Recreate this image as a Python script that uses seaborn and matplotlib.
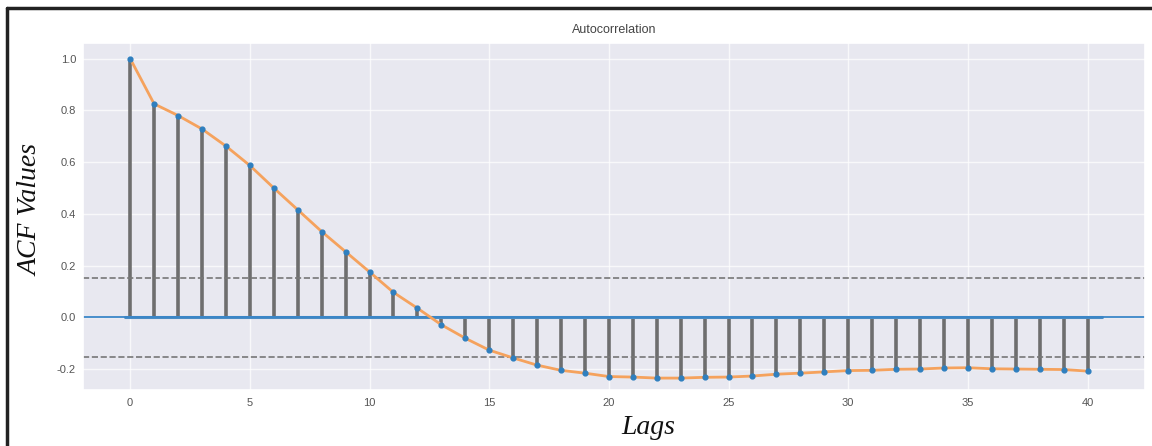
import numpy as np
import pandas as pd
import matplotlib
matplotlib.use("Agg")
import matplotlib.pyplot as plt
import seaborn as sns
from matplotlib.lines import Line2D

# --- data ---
lags = list(range(41))
acf_values = [1.000, 0.825, 0.780, 0.728, 0.662, 0.587, 0.500, 0.416, 0.332, 0.254,
              0.176, 0.097, 0.036, -0.028, -0.080, -0.126, -0.156, -0.184, -0.204, -0.215,
              -0.228, -0.230, -0.234, -0.234, -0.231, -0.230, -0.226, -0.219, -0.215, -0.210,
              -0.205, -0.204, -0.200, -0.199, -0.195, -0.194, -0.198, -0.199, -0.200, -0.201,
              -0.207]
conf_bound = 0.152
x_ticks = [0, 5, 10, 15, 20, 25, 30, 35, 40]
y_ticks = [-0.2, 0.0, 0.2, 0.4, 0.6, 0.8, 1.0]

df = pd.DataFrame({"lag": lags, "acf": acf_values})

sns.set_theme(style="darkgrid")
plt.rcParams["font.family"] = ["Liberation Sans Narrow", "Liberation Sans", "DejaVu Sans"]

fig = plt.figure(figsize=(11.52, 4.46), dpi=100)
ax = fig.add_axes([83 / 1152, 1 - 390 / 446, (1145 - 83) / 1152, (390 - 43) / 446])
ax.set_facecolor("#e8e8f0")
ax.grid(color="white", linewidth=1.0, alpha=0.7)

# stems
ax.vlines(df["lag"], 0, df["acf"], color="#6e6e6e", linewidth=2.6, zorder=2)
ax.plot([-0.2, 40.6], [0, 0], color="#4a8cc4", linewidth=2.2, zorder=2)
ax.axhline(0, color="#3a86c8", linewidth=1.3, zorder=2)

# confidence bounds
ax.axhline(conf_bound, color="#777777", linestyle="--", linewidth=1.2, zorder=2)
ax.axhline(-conf_bound, color="#777777", linestyle="--", linewidth=1.2, zorder=2)

# orange line through the values
sns.lineplot(data=df, x="lag", y="acf", ax=ax, color="#f5a25d", linewidth=2.0, zorder=3)
ax.scatter(df["lag"], df["acf"], s=12, color="#2f7fbf", zorder=4)

ax.set_xlim(-1.97, 42.4)
ax.set_ylim(-0.28, 1.06)
ax.set_xticks(x_ticks)
ax.set_yticks(y_ticks)
ax.set_yticklabels([f"{v:.1f}" for v in y_ticks])
ax.tick_params(axis="y", labelsize=8, colors="#555555", length=0, pad=5)
ax.tick_params(axis="x", labelsize=8, colors="#555555", length=0, pad=6)

ax.set_title("Autocorrelation", fontsize=9, color="#444444", pad=7)
ax.set_xlabel("Lags", fontsize=20, family=["Liberation Serif"], style="italic",
              color="#111111")
ax.set_ylabel("ACF Values", fontsize=20, family=["Liberation Serif"], style="italic",
              color="#111111")
ax.xaxis.set_label_coords(0.532, -0.072)
ax.yaxis.set_label_coords(-0.037, 0.52)

# screenshot frame (left and top edges)
fig.add_artist(Line2D([7 / 1152, 7 / 1152], [0, 1 - 8 / 446], color="#222222", linewidth=2.5))
fig.add_artist(Line2D([7 / 1152, 1], [1 - 8 / 446, 1 - 8 / 446], color="#222222", linewidth=2.5))

fig.savefig("out.png", dpi=100)
